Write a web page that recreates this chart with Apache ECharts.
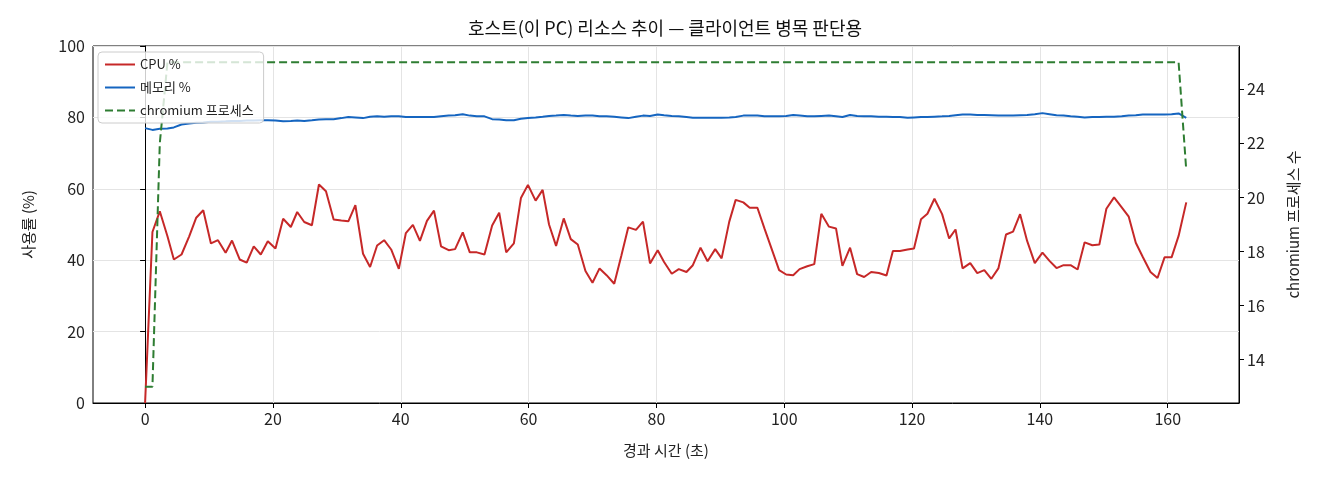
<!DOCTYPE html>
<html>
<head>
<meta charset="utf-8">
<script src="https://cdn.jsdelivr.net/npm/echarts@6/dist/echarts.min.js"></script>
<style>
    html, body { margin: 0; padding: 0; background: #fff; }
    #chart { width: 1320px; height: 480px; }
</style>
</head>
<body>
<div id="chart"></div>
<script>
// 경과 시간 (초) - 샘플 시각
let times = [0, 1.15, 2.3, 3.5, 4.5, 5.7, 6.9, 8.0, 9.1, 10.3, 11.4, 12.6, 13.6, 14.8, 15.9, 17.0, 18.1, 19.2, 20.4,
    21.6, 22.8, 23.8, 24.9, 26.1, 27.2, 28.3, 29.5, 30.7, 31.8, 32.9, 34.1, 35.2, 36.3, 37.4, 38.5, 39.7, 40.8, 41.9,
    43.0, 44.1, 45.2, 46.3, 47.5, 48.5, 49.7, 50.8, 51.9, 53.1, 54.3, 55.4, 56.5, 57.7, 58.8, 59.9, 61.1, 62.2, 63.2,
    64.3, 65.5, 66.6, 67.7, 68.9, 70.0, 71.1, 72.2, 73.4, 74.5, 75.6, 76.8, 77.9, 79.0, 80.2, 81.2, 82.4, 83.5, 84.7,
    85.7, 86.9, 88.0, 89.2, 90.2, 91.4, 92.4, 93.6, 94.6, 95.8, 96.9, 98.0, 99.2, 100.3, 101.4, 102.4, 103.6, 104.7,
    105.8, 107.0, 108.1, 109.1, 110.3, 111.4, 112.5, 113.6, 114.8, 116.0, 117.0, 118.1, 119.3, 120.3, 121.4, 122.4,
    123.5, 124.7, 125.8, 126.8, 127.9, 129.1, 130.2, 131.3, 132.4, 133.5, 134.7, 135.8, 136.9, 138.0, 139.2, 140.4,
    141.5, 142.6, 143.7, 144.8, 145.9, 147.0, 148.2, 149.3, 150.4, 151.6, 152.8, 153.9, 155.0, 156.1, 157.3, 158.4,
    159.5, 160.6, 161.7, 162.9];

let cpuPct = [0, 47.9, 53.7, 46.7, 40.2, 41.6, 46.7, 51.9, 54.0, 44.7, 45.6, 42.1, 45.5, 40.2, 39.3, 43.9, 41.6, 45.3, 43.3,
    51.6, 49.3, 53.5, 50.7, 49.8, 61.2, 59.3, 51.4, 51.1, 50.9, 55.4, 41.8, 38.1, 44.1, 45.6, 43.0, 37.6, 47.6, 49.9,
    45.4, 51.0, 53.9, 43.9, 42.8, 43.1, 47.8, 42.2, 42.2, 41.6, 49.7, 53.3, 42.2, 44.7, 57.4, 61.1, 56.7, 59.7, 50.0,
    44.0, 51.7, 45.9, 44.4, 37.0, 33.7, 37.7, 35.8, 33.4, 41.2, 49.2, 48.5, 50.8, 39.1, 42.8, 39.5, 36.2, 37.5, 36.7,
    38.6, 43.5, 39.7, 43.1, 40.5, 50.8, 56.9, 56.2, 54.7, 54.7, 48.9, 43.3, 37.2, 36.0, 35.8, 37.5, 38.3, 38.9,
    53.0, 49.4, 48.9, 38.4, 43.5, 36.1, 35.3, 36.7, 36.4, 35.7, 42.6, 42.6, 43.0, 43.3, 51.5, 53.0,
    57.2, 52.9, 46.1, 48.6, 37.7, 39.2, 36.4, 37.2, 34.8, 37.7, 47.2, 48.0, 52.9, 45.4, 39.2, 42.1,
    39.8, 37.8, 38.6, 38.6, 37.4, 45.0, 44.2, 44.4, 54.4, 57.6, 54.8, 52.2, 44.9, 40.9, 36.7, 35.0,
    40.8, 40.8, 46.8, 56.2];

let memPct = [77.0, 76.5, 76.8, 76.9, 77.2, 78.0, 78.3, 78.5, 78.6, 78.8, 78.8, 78.9, 79.0, 79.0, 79.1, 79.1, 79.2, 79.2, 79.1,
    78.9, 79.0, 79.1, 79.0, 79.2, 79.4, 79.5, 79.5, 79.8, 80.1, 80.0, 79.8, 80.2, 80.3, 80.2, 80.3, 80.3, 80.1, 80.1,
    80.1, 80.1, 80.1, 80.3, 80.5, 80.6, 80.9, 80.5, 80.3, 80.3, 79.5, 79.4, 79.2, 79.2, 79.6, 79.8, 80.0, 80.2, 80.4,
    80.5, 80.65, 80.5, 80.4, 80.5, 80.5, 80.3, 80.3, 80.2, 80.0, 79.8, 80.2, 80.5, 80.4, 80.8, 80.6, 80.4, 80.3, 80.1,
    79.9, 79.9, 79.9, 79.9, 79.9, 80.0, 80.1, 80.5, 80.5, 80.5, 80.3, 80.3, 80.3, 80.4, 80.65, 80.5, 80.3, 80.3,
    80.4, 80.5, 80.3, 80.1, 80.65, 80.4, 80.3, 80.3, 80.2, 80.2, 80.1, 80.1, 79.9, 80.0, 80.1, 80.1,
    80.2, 80.3, 80.4, 80.6, 80.8, 80.8, 80.7, 80.7, 80.6, 80.5, 80.5, 80.5, 80.6, 80.7, 80.9, 81.2,
    80.9, 80.6, 80.5, 80.3, 80.2, 80.0, 80.1, 80.1, 80.2, 80.2, 80.3, 80.5, 80.6, 80.8, 80.8, 80.8,
    80.8, 80.9, 81.1, 79.9];

// chromium 프로세스 수 (시작 직후 13 -> 25, 종료 시 21)
let procTimes = [0, 1.15, 2.3, 3.5, 161.7, 162.9];
let procCount = [13, 13, 22, 25, 25, 21];

let xTicks = [0, 20, 40, 60, 80, 100, 120, 140, 160];
let rightTicks = [14, 16, 18, 20, 22, 24];

function zip(xs, ys) {
    let arr = [];
    for (let i = 0, len = xs.length; i < len; i++) {
        arr.push([xs[i], ys[i]]);
    }
    return arr;
}

let fontFamily = '"Noto Sans CJK KR", "Noto Sans", sans-serif';
let chart = echarts.init(document.getElementById('chart'));
let option = {
    animation: false,
    textStyle: { fontFamily: fontFamily },
    title: {
        text: '호스트(이 PC) 리소스 추이 — 클라이언트 병목 판단용',
        left: 660,
        top: 14,
        textAlign: 'center',
        textStyle: { fontFamily: fontFamily, fontSize: 18, fontWeight: 'normal', color: '#111' }
    },
    legend: {
        orient: 'vertical',
        left: 98,
        top: 52,
        padding: [6, 10, 6, 6],
        itemWidth: 30,
        itemHeight: 12,
        itemGap: 10,
        backgroundColor: 'rgba(255,255,255,0.8)',
        borderColor: '#cccccc',
        borderWidth: 1,
        borderRadius: 4,
        itemStyle: { opacity: 0 },   // 선만 보이도록 심볼 숨김
        textStyle: { fontFamily: fontFamily, fontSize: 13, color: '#222' },
        data: ['CPU %', '메모리 %', 'chromium 프로세스']
    },
    grid: {
        left: 93,
        right: 81,
        top: 46,
        bottom: 77,
        show: true,
        borderColor: '#000',
        borderWidth: 1,
        backgroundColor: 'transparent'
    },
    xAxis: {
        type: 'value',
        min: -8.15,
        max: 171.15,
        name: '경과 시간 (초)',
        nameLocation: 'middle',
        nameGap: 40,
        nameTextStyle: { fontFamily: fontFamily, fontSize: 15, color: '#222' },
        axisLine: { lineStyle: { color: '#000', width: 1 } },
        axisTick: { show: true, length: 5, lineStyle: { color: '#000' }, customValues: xTicks },
        axisLabel: { fontSize: 16, color: '#222', margin: 8, customValues: xTicks },
        splitLine: { show: true, lineStyle: { color: '#e4e4e4', width: 1 } }
    },
    yAxis: [
        {
            type: 'value',
            min: 0,
            max: 100,
            interval: 20,
            name: '사용률 (%)',
            nameLocation: 'middle',
            nameRotate: 90,
            nameGap: 57,
            nameTextStyle: { fontFamily: fontFamily, fontSize: 15, color: '#222' },
            axisLine: { show: true, lineStyle: { color: '#000', width: 1 } },
            axisTick: { show: true, length: 5, lineStyle: { color: '#000' } },
            axisLabel: { fontSize: 16, color: '#222', margin: 8 },
            splitLine: { show: true, lineStyle: { color: '#e4e4e4', width: 1 } }
        },
        {
            type: 'value',
            position: 'right',
            min: 12.4,
            max: 25.6,
            name: 'chromium 프로세스 수',
            nameLocation: 'middle',
            nameRotate: 90,
            nameGap: 47,
            nameTextStyle: { fontFamily: fontFamily, fontSize: 15, color: '#222' },
            axisLine: { show: true, lineStyle: { color: '#000', width: 1 } },
            axisTick: { show: true, length: 5, lineStyle: { color: '#000' }, customValues: rightTicks },
            axisLabel: { fontSize: 16, color: '#222', margin: 8, customValues: rightTicks },
            splitLine: { show: false }
        }
    ],
    series: [
        {
            name: 'CPU %',
            type: 'line',
            yAxisIndex: 0,
            symbol: 'none',
            color: '#c62828',
            lineStyle: { width: 2, color: '#c62828' },
            data: zip(times, cpuPct)
        },
        {
            name: '메모리 %',
            type: 'line',
            yAxisIndex: 0,
            symbol: 'none',
            color: '#1565c0',
            lineStyle: { width: 2, color: '#1565c0' },
            data: zip(times, memPct)
        },
        {
            name: 'chromium 프로세스',
            type: 'line',
            yAxisIndex: 1,
            symbol: 'none',
            color: '#2e7d32',
            lineStyle: { width: 2, color: '#2e7d32', type: [8, 4] },
            data: zip(procTimes, procCount)
        }
    ]
};
chart.setOption(option);
</script>
</body>
</html>
